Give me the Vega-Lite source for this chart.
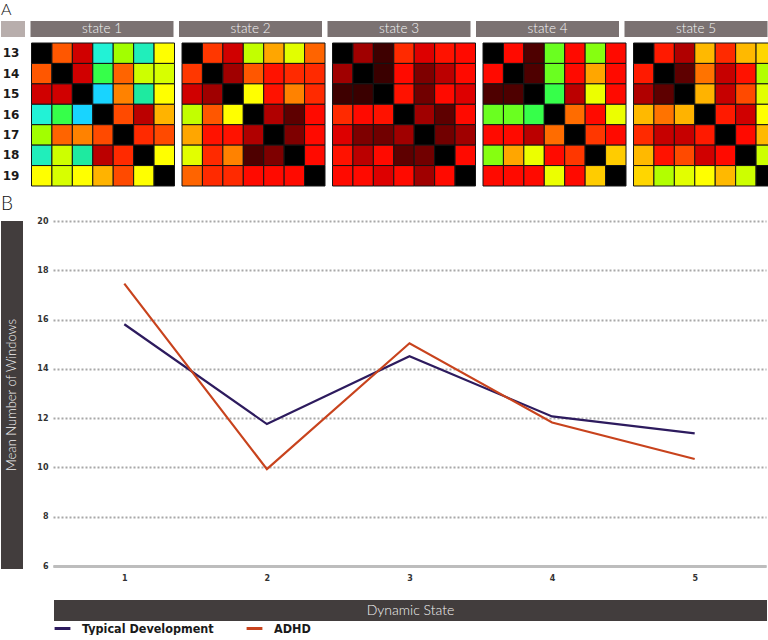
{
  "$schema": "https://vega.github.io/schema/vega-lite/v6.json",
  "padding": {"left": 1, "top": 2, "right": 0, "bottom": 0},
  "background": "white",
  "spacing": 8,
  "config": {
    "view": {"stroke": null},
    "font": "Lato",
    "title": {"anchor": "start", "fontSize": 16, "fontWeight": 300, "color": "#111", "font": "Lato", "offset": 3}
  },
  "resolve": {"scale": {"color": "independent"}, "legend": {"color": "independent"}},
  "datasets": {
    "lines": [
      {"state": 1, "group": "Typical Development", "value": 15.81},
      {"state": 2, "group": "Typical Development", "value": 11.76},
      {"state": 3, "group": "Typical Development", "value": 14.51},
      {"state": 4, "group": "Typical Development", "value": 12.07},
      {"state": 5, "group": "Typical Development", "value": 11.38},
      {"state": 1, "group": "ADHD", "value": 17.46},
      {"state": 2, "group": "ADHD", "value": 9.93},
      {"state": 3, "group": "ADHD", "value": 15.04},
      {"state": 4, "group": "ADHD", "value": 11.82},
      {"state": 5, "group": "ADHD", "value": 10.34}
    ],
    "heat": [
      {"s":1,"r":13,"c":13,"v":0},{"s":1,"r":13,"c":14,"v":62},{"s":1,"r":13,"c":15,"v":42},{"s":1,"r":13,"c":16,"v":97},{"s":1,"r":13,"c":17,"v":88},{"s":1,"r":13,"c":18,"v":96},{"s":1,"r":13,"c":19,"v":80},
      {"s":1,"r":14,"c":13,"v":62},{"s":1,"r":14,"c":14,"v":0},{"s":1,"r":14,"c":15,"v":42},{"s":1,"r":14,"c":16,"v":92},{"s":1,"r":14,"c":17,"v":64},{"s":1,"r":14,"c":18,"v":85},{"s":1,"r":14,"c":19,"v":84},
      {"s":1,"r":15,"c":13,"v":42},{"s":1,"r":15,"c":14,"v":42},{"s":1,"r":15,"c":15,"v":0},{"s":1,"r":15,"c":16,"v":100},{"s":1,"r":15,"c":17,"v":68},{"s":1,"r":15,"c":18,"v":95},{"s":1,"r":15,"c":19,"v":80},
      {"s":1,"r":16,"c":13,"v":97},{"s":1,"r":16,"c":14,"v":92},{"s":1,"r":16,"c":15,"v":100},{"s":1,"r":16,"c":16,"v":0},{"s":1,"r":16,"c":17,"v":60},{"s":1,"r":16,"c":18,"v":38},{"s":1,"r":16,"c":19,"v":74},
      {"s":1,"r":17,"c":13,"v":88},{"s":1,"r":17,"c":14,"v":64},{"s":1,"r":17,"c":15,"v":68},{"s":1,"r":17,"c":16,"v":60},{"s":1,"r":17,"c":17,"v":0},{"s":1,"r":17,"c":18,"v":55},{"s":1,"r":17,"c":19,"v":60},
      {"s":1,"r":18,"c":13,"v":96},{"s":1,"r":18,"c":14,"v":85},{"s":1,"r":18,"c":15,"v":95},{"s":1,"r":18,"c":16,"v":38},{"s":1,"r":18,"c":17,"v":55},{"s":1,"r":18,"c":18,"v":0},{"s":1,"r":18,"c":19,"v":80},
      {"s":1,"r":19,"c":13,"v":80},{"s":1,"r":19,"c":14,"v":84},{"s":1,"r":19,"c":15,"v":80},{"s":1,"r":19,"c":16,"v":74},{"s":1,"r":19,"c":17,"v":60},{"s":1,"r":19,"c":18,"v":80},{"s":1,"r":19,"c":19,"v":0},

      {"s":2,"r":13,"c":13,"v":0},{"s":2,"r":13,"c":14,"v":57},{"s":2,"r":13,"c":15,"v":42},{"s":2,"r":13,"c":16,"v":86},{"s":2,"r":13,"c":17,"v":72},{"s":2,"r":13,"c":18,"v":83},{"s":2,"r":13,"c":19,"v":64},
      {"s":2,"r":14,"c":13,"v":57},{"s":2,"r":14,"c":14,"v":0},{"s":2,"r":14,"c":15,"v":33},{"s":2,"r":14,"c":16,"v":62},{"s":2,"r":14,"c":17,"v":52},{"s":2,"r":14,"c":18,"v":55},{"s":2,"r":14,"c":19,"v":55},
      {"s":2,"r":15,"c":13,"v":42},{"s":2,"r":15,"c":14,"v":33},{"s":2,"r":15,"c":15,"v":0},{"s":2,"r":15,"c":16,"v":80},{"s":2,"r":15,"c":17,"v":52},{"s":2,"r":15,"c":18,"v":68},{"s":2,"r":15,"c":19,"v":55},
      {"s":2,"r":16,"c":13,"v":86},{"s":2,"r":16,"c":14,"v":62},{"s":2,"r":16,"c":15,"v":80},{"s":2,"r":16,"c":16,"v":0},{"s":2,"r":16,"c":17,"v":36},{"s":2,"r":16,"c":18,"v":23},{"s":2,"r":16,"c":19,"v":51},
      {"s":2,"r":17,"c":13,"v":72},{"s":2,"r":17,"c":14,"v":52},{"s":2,"r":17,"c":15,"v":52},{"s":2,"r":17,"c":16,"v":36},{"s":2,"r":17,"c":17,"v":0},{"s":2,"r":17,"c":18,"v":28},{"s":2,"r":17,"c":19,"v":51},
      {"s":2,"r":18,"c":13,"v":83},{"s":2,"r":18,"c":14,"v":55},{"s":2,"r":18,"c":15,"v":68},{"s":2,"r":18,"c":16,"v":20},{"s":2,"r":18,"c":17,"v":28},{"s":2,"r":18,"c":18,"v":0},{"s":2,"r":18,"c":19,"v":51},
      {"s":2,"r":19,"c":13,"v":64},{"s":2,"r":19,"c":14,"v":55},{"s":2,"r":19,"c":15,"v":55},{"s":2,"r":19,"c":16,"v":51},{"s":2,"r":19,"c":17,"v":51},{"s":2,"r":19,"c":18,"v":51},{"s":2,"r":19,"c":19,"v":0},

      {"s":3,"r":13,"c":13,"v":0},{"s":3,"r":13,"c":14,"v":33},{"s":3,"r":13,"c":15,"v":16},{"s":3,"r":13,"c":16,"v":55},{"s":3,"r":13,"c":17,"v":45},{"s":3,"r":13,"c":18,"v":52},{"s":3,"r":13,"c":19,"v":51},
      {"s":3,"r":14,"c":13,"v":33},{"s":3,"r":14,"c":14,"v":0},{"s":3,"r":14,"c":15,"v":15},{"s":3,"r":14,"c":16,"v":51},{"s":3,"r":14,"c":17,"v":28},{"s":3,"r":14,"c":18,"v":38},{"s":3,"r":14,"c":19,"v":51},
      {"s":3,"r":15,"c":13,"v":16},{"s":3,"r":15,"c":14,"v":15},{"s":3,"r":15,"c":15,"v":0},{"s":3,"r":15,"c":16,"v":52},{"s":3,"r":15,"c":17,"v":26},{"s":3,"r":15,"c":18,"v":51},{"s":3,"r":15,"c":19,"v":45},
      {"s":3,"r":16,"c":13,"v":55},{"s":3,"r":16,"c":14,"v":51},{"s":3,"r":16,"c":15,"v":52},{"s":3,"r":16,"c":16,"v":0},{"s":3,"r":16,"c":17,"v":33},{"s":3,"r":16,"c":18,"v":23},{"s":3,"r":16,"c":19,"v":51},
      {"s":3,"r":17,"c":13,"v":45},{"s":3,"r":17,"c":14,"v":28},{"s":3,"r":17,"c":15,"v":26},{"s":3,"r":17,"c":16,"v":33},{"s":3,"r":17,"c":17,"v":0},{"s":3,"r":17,"c":18,"v":26},{"s":3,"r":17,"c":19,"v":33},
      {"s":3,"r":18,"c":13,"v":52},{"s":3,"r":18,"c":14,"v":38},{"s":3,"r":18,"c":15,"v":51},{"s":3,"r":18,"c":16,"v":23},{"s":3,"r":18,"c":17,"v":26},{"s":3,"r":18,"c":18,"v":0},{"s":3,"r":18,"c":19,"v":51},
      {"s":3,"r":19,"c":13,"v":51},{"s":3,"r":19,"c":14,"v":51},{"s":3,"r":19,"c":15,"v":45},{"s":3,"r":19,"c":16,"v":51},{"s":3,"r":19,"c":17,"v":33},{"s":3,"r":19,"c":18,"v":51},{"s":3,"r":19,"c":19,"v":0},

      {"s":4,"r":13,"c":13,"v":0},{"s":4,"r":13,"c":14,"v":51},{"s":4,"r":13,"c":15,"v":20},{"s":4,"r":13,"c":16,"v":90},{"s":4,"r":13,"c":17,"v":51},{"s":4,"r":13,"c":18,"v":89},{"s":4,"r":13,"c":19,"v":51},
      {"s":4,"r":14,"c":13,"v":51},{"s":4,"r":14,"c":14,"v":0},{"s":4,"r":14,"c":15,"v":20},{"s":4,"r":14,"c":16,"v":90},{"s":4,"r":14,"c":17,"v":51},{"s":4,"r":14,"c":18,"v":72},{"s":4,"r":14,"c":19,"v":51},
      {"s":4,"r":15,"c":13,"v":20},{"s":4,"r":15,"c":14,"v":20},{"s":4,"r":15,"c":15,"v":0},{"s":4,"r":15,"c":16,"v":92},{"s":4,"r":15,"c":17,"v":38},{"s":4,"r":15,"c":18,"v":82},{"s":4,"r":15,"c":19,"v":51},
      {"s":4,"r":16,"c":13,"v":90},{"s":4,"r":16,"c":14,"v":90},{"s":4,"r":16,"c":15,"v":92},{"s":4,"r":16,"c":16,"v":0},{"s":4,"r":16,"c":17,"v":65},{"s":4,"r":16,"c":18,"v":51},{"s":4,"r":16,"c":19,"v":82},
      {"s":4,"r":17,"c":13,"v":51},{"s":4,"r":17,"c":14,"v":51},{"s":4,"r":17,"c":15,"v":38},{"s":4,"r":17,"c":16,"v":65},{"s":4,"r":17,"c":17,"v":0},{"s":4,"r":17,"c":18,"v":57},{"s":4,"r":17,"c":19,"v":51},
      {"s":4,"r":18,"c":13,"v":89},{"s":4,"r":18,"c":14,"v":72},{"s":4,"r":18,"c":15,"v":82},{"s":4,"r":18,"c":16,"v":51},{"s":4,"r":18,"c":17,"v":57},{"s":4,"r":18,"c":18,"v":0},{"s":4,"r":18,"c":19,"v":77},
      {"s":4,"r":19,"c":13,"v":51},{"s":4,"r":19,"c":14,"v":51},{"s":4,"r":19,"c":15,"v":51},{"s":4,"r":19,"c":16,"v":82},{"s":4,"r":19,"c":17,"v":51},{"s":4,"r":19,"c":18,"v":77},{"s":4,"r":19,"c":19,"v":0},

      {"s":5,"r":13,"c":13,"v":0},{"s":5,"r":13,"c":14,"v":53},{"s":5,"r":13,"c":15,"v":36},{"s":5,"r":13,"c":16,"v":75},{"s":5,"r":13,"c":17,"v":55},{"s":5,"r":13,"c":18,"v":75},{"s":5,"r":13,"c":19,"v":78},
      {"s":5,"r":14,"c":13,"v":53},{"s":5,"r":14,"c":14,"v":0},{"s":5,"r":14,"c":15,"v":23},{"s":5,"r":14,"c":16,"v":66},{"s":5,"r":14,"c":17,"v":40},{"s":5,"r":14,"c":18,"v":52},{"s":5,"r":14,"c":19,"v":87},
      {"s":5,"r":15,"c":13,"v":36},{"s":5,"r":15,"c":14,"v":23},{"s":5,"r":15,"c":15,"v":0},{"s":5,"r":15,"c":16,"v":74},{"s":5,"r":15,"c":17,"v":40},{"s":5,"r":15,"c":18,"v":60},{"s":5,"r":15,"c":19,"v":83},
      {"s":5,"r":16,"c":13,"v":75},{"s":5,"r":16,"c":14,"v":66},{"s":5,"r":16,"c":15,"v":74},{"s":5,"r":16,"c":16,"v":0},{"s":5,"r":16,"c":17,"v":53},{"s":5,"r":16,"c":18,"v":42},{"s":5,"r":16,"c":19,"v":80},
      {"s":5,"r":17,"c":13,"v":55},{"s":5,"r":17,"c":14,"v":40},{"s":5,"r":17,"c":15,"v":40},{"s":5,"r":17,"c":16,"v":53},{"s":5,"r":17,"c":17,"v":0},{"s":5,"r":17,"c":18,"v":51},{"s":5,"r":17,"c":19,"v":75},
      {"s":5,"r":18,"c":13,"v":75},{"s":5,"r":18,"c":14,"v":52},{"s":5,"r":18,"c":15,"v":60},{"s":5,"r":18,"c":16,"v":42},{"s":5,"r":18,"c":17,"v":51},{"s":5,"r":18,"c":18,"v":0},{"s":5,"r":18,"c":19,"v":85},
      {"s":5,"r":19,"c":13,"v":78},{"s":5,"r":19,"c":14,"v":87},{"s":5,"r":19,"c":15,"v":83},{"s":5,"r":19,"c":16,"v":80},{"s":5,"r":19,"c":17,"v":75},{"s":5,"r":19,"c":18,"v":85},{"s":5,"r":19,"c":19,"v":0}
    ]
  },
  "vconcat": [
    {
      "title": {"text": "A"},
      "spacing": 5,
      "vconcat": [
        {
          "spacing": 5.5,
          "hconcat": [
            {"width": 24, "height": 16, "data": {"values": [{}]}, "mark": {"type": "rect", "color": "#b8aeac"},
             "encoding": {"x": {"value": 0}, "x2": {"value": "width"}, "y": {"value": 0}, "y2": {"value": "height"}}},
            {"width": 143, "height": 16, "data": {"values": [{"label": "state 1"}]}, "layer": [
              {"mark": {"type": "rect", "color": "#7b7272"}, "encoding": {"x": {"value": 0}, "x2": {"value": "width"}, "y": {"value": 0}, "y2": {"value": "height"}}},
              {"mark": {"type": "text", "color": "#f6f6f6", "fontSize": 13.5, "font": "Lato", "fontWeight": 300}, "encoding": {"text": {"field": "label"}}}]},
            {"width": 143, "height": 16, "data": {"values": [{"label": "state 2"}]}, "layer": [
              {"mark": {"type": "rect", "color": "#7b7272"}, "encoding": {"x": {"value": 0}, "x2": {"value": "width"}, "y": {"value": 0}, "y2": {"value": "height"}}},
              {"mark": {"type": "text", "color": "#f6f6f6", "fontSize": 13.5, "font": "Lato", "fontWeight": 300}, "encoding": {"text": {"field": "label"}}}]},
            {"width": 143, "height": 16, "data": {"values": [{"label": "state 3"}]}, "layer": [
              {"mark": {"type": "rect", "color": "#7b7272"}, "encoding": {"x": {"value": 0}, "x2": {"value": "width"}, "y": {"value": 0}, "y2": {"value": "height"}}},
              {"mark": {"type": "text", "color": "#f6f6f6", "fontSize": 13.5, "font": "Lato", "fontWeight": 300}, "encoding": {"text": {"field": "label"}}}]},
            {"width": 143, "height": 16, "data": {"values": [{"label": "state 4"}]}, "layer": [
              {"mark": {"type": "rect", "color": "#7b7272"}, "encoding": {"x": {"value": 0}, "x2": {"value": "width"}, "y": {"value": 0}, "y2": {"value": "height"}}},
              {"mark": {"type": "text", "color": "#f6f6f6", "fontSize": 13.5, "font": "Lato", "fontWeight": 300}, "encoding": {"text": {"field": "label"}}}]},
            {"width": 143, "height": 16, "data": {"values": [{"label": "state 5"}]}, "layer": [
              {"mark": {"type": "rect", "color": "#7b7272"}, "encoding": {"x": {"value": 0}, "x2": {"value": "width"}, "y": {"value": 0}, "y2": {"value": "height"}}},
              {"mark": {"type": "text", "color": "#f6f6f6", "fontSize": 13.5, "font": "Lato", "fontWeight": 300}, "encoding": {"text": {"field": "label"}}}]}
          ]
        },
        {
          "spacing": 5.5,
          "hconcat": [
            {"width": 24, "height": 143, "data": {"name": "heat"}, "transform": [{"filter": "datum.s == 1 && datum.c == 13"}],
             "mark": {"type": "text", "font": "DejaVu Sans", "fontWeight": "bold", "fontSize": 12, "color": "#1a1a1a", "dx": -2},
             "encoding": {"y": {"field": "r", "type": "ordinal", "axis": null}, "text": {"field": "r"}}},
            {"width": 143, "height": 143, "data": {"name": "heat"}, "transform": [{"filter": "datum.s == 1"}],
             "mark": {"type": "rect", "stroke": "#141414", "strokeWidth": 1},
             "encoding": {"x": {"field": "c", "type": "ordinal", "axis": null}, "y": {"field": "r", "type": "ordinal", "axis": null},
               "color": {"field": "v", "type": "quantitative", "legend": null, "scale": {"domain": [0,15,20,23,28,33,38,42,45,51,55,60,64,68,71,75,78,80,83,86,88,90,92,95,97,100], "range": ["#000000","#3a0000","#4e0000","#5e0000","#7e0000","#a00000","#bb0000","#d00000","#dd0000","#ff0a00","#ff2a00","#ff4a00","#ff6400","#ff8200","#ffa000","#ffb900","#ffd600","#ffff00","#e2ff00","#c2ff00","#a2ff00","#6aff20","#36ff4a","#1eeaa0","#22f2d6","#18d4ff"], "interpolate": "rgb"}}}},
            {"width": 143, "height": 143, "data": {"name": "heat"}, "transform": [{"filter": "datum.s == 2"}],
             "mark": {"type": "rect", "stroke": "#141414", "strokeWidth": 1},
             "encoding": {"x": {"field": "c", "type": "ordinal", "axis": null}, "y": {"field": "r", "type": "ordinal", "axis": null},
               "color": {"field": "v", "type": "quantitative", "legend": null, "scale": {"domain": [0,15,20,23,28,33,38,42,45,51,55,60,64,68,71,75,78,80,83,86,88,90,92,95,97,100], "range": ["#000000","#3a0000","#4e0000","#5e0000","#7e0000","#a00000","#bb0000","#d00000","#dd0000","#ff0a00","#ff2a00","#ff4a00","#ff6400","#ff8200","#ffa000","#ffb900","#ffd600","#ffff00","#e2ff00","#c2ff00","#a2ff00","#6aff20","#36ff4a","#1eeaa0","#22f2d6","#18d4ff"], "interpolate": "rgb"}}}},
            {"width": 143, "height": 143, "data": {"name": "heat"}, "transform": [{"filter": "datum.s == 3"}],
             "mark": {"type": "rect", "stroke": "#141414", "strokeWidth": 1},
             "encoding": {"x": {"field": "c", "type": "ordinal", "axis": null}, "y": {"field": "r", "type": "ordinal", "axis": null},
               "color": {"field": "v", "type": "quantitative", "legend": null, "scale": {"domain": [0,15,20,23,28,33,38,42,45,51,55,60,64,68,71,75,78,80,83,86,88,90,92,95,97,100], "range": ["#000000","#3a0000","#4e0000","#5e0000","#7e0000","#a00000","#bb0000","#d00000","#dd0000","#ff0a00","#ff2a00","#ff4a00","#ff6400","#ff8200","#ffa000","#ffb900","#ffd600","#ffff00","#e2ff00","#c2ff00","#a2ff00","#6aff20","#36ff4a","#1eeaa0","#22f2d6","#18d4ff"], "interpolate": "rgb"}}}},
            {"width": 143, "height": 143, "data": {"name": "heat"}, "transform": [{"filter": "datum.s == 4"}],
             "mark": {"type": "rect", "stroke": "#141414", "strokeWidth": 1},
             "encoding": {"x": {"field": "c", "type": "ordinal", "axis": null}, "y": {"field": "r", "type": "ordinal", "axis": null},
               "color": {"field": "v", "type": "quantitative", "legend": null, "scale": {"domain": [0,15,20,23,28,33,38,42,45,51,55,60,64,68,71,75,78,80,83,86,88,90,92,95,97,100], "range": ["#000000","#3a0000","#4e0000","#5e0000","#7e0000","#a00000","#bb0000","#d00000","#dd0000","#ff0a00","#ff2a00","#ff4a00","#ff6400","#ff8200","#ffa000","#ffb900","#ffd600","#ffff00","#e2ff00","#c2ff00","#a2ff00","#6aff20","#36ff4a","#1eeaa0","#22f2d6","#18d4ff"], "interpolate": "rgb"}}}},
            {"width": 143, "height": 143, "data": {"name": "heat"}, "transform": [{"filter": "datum.s == 5"}],
             "mark": {"type": "rect", "stroke": "#141414", "strokeWidth": 1},
             "encoding": {"x": {"field": "c", "type": "ordinal", "axis": null}, "y": {"field": "r", "type": "ordinal", "axis": null},
               "color": {"field": "v", "type": "quantitative", "legend": null, "scale": {"domain": [0,15,20,23,28,33,38,42,45,51,55,60,64,68,71,75,78,80,83,86,88,90,92,95,97,100], "range": ["#000000","#3a0000","#4e0000","#5e0000","#7e0000","#a00000","#bb0000","#d00000","#dd0000","#ff0a00","#ff2a00","#ff4a00","#ff6400","#ff8200","#ffa000","#ffb900","#ffd600","#ffff00","#e2ff00","#c2ff00","#a2ff00","#6aff20","#36ff4a","#1eeaa0","#22f2d6","#18d4ff"], "interpolate": "rgb"}}}}
          ]
        }
      ]
    },
    {
      "title": {"text": "B", "fontSize": 19, "offset": 3},
      "spacing": 18,
      "resolve": {"scale": {"color": "independent"}, "legend": {"color": "independent"}},
      "vconcat": [
        {
          "spacing": 0,
          "hconcat": [
            {"width": 22, "height": 348, "data": {"values": [{}]}, "layer": [
              {"mark": {"type": "rect", "color": "#423d3d"}, "encoding": {"x": {"value": 0}, "x2": {"value": "width"}, "y": {"value": 0}, "y2": {"value": "height"}}},
              {"mark": {"type": "text", "text": "Mean Number of Windows", "angle": 270, "color": "#f2f2f2", "fontSize": 13, "font": "Lato", "fontWeight": 300}, "encoding": {}}
            ]},
            {"width": 713, "height": 345, "data": {"name": "lines"},
             "mark": {"type": "line", "strokeWidth": 2.2},
             "encoding": {
               "x": {"field": "state", "type": "quantitative", "scale": {"domain": [0.5, 5.5], "nice": false, "zero": false},
                 "axis": {"values": [1,2,3,4,5], "format": "d", "title": null, "grid": false, "ticks": false, "domainColor": "#bdbdbd", "domainWidth": 3, "labelFont": "DejaVu Sans", "labelFontSize": 8, "labelFontWeight": "bold", "labelColor": "#333", "labelPadding": 8}},
               "y": {"field": "value", "type": "quantitative", "scale": {"domain": [6, 20], "nice": false, "zero": false},
                 "axis": {"values": [6,8,10,12,14,16,18,20], "title": null, "grid": true, "gridDash": [2, 2], "gridColor": "#a8a8a8", "gridWidth": 2, "domain": false, "ticks": false, "labelFont": "DejaVu Sans", "labelFontSize": 8, "labelFontWeight": "bold", "labelColor": "#333", "labelPadding": 5, "minExtent": 30, "maxExtent": 30}},
               "color": {"field": "group", "type": "nominal", "scale": {"domain": ["Typical Development", "ADHD"], "range": ["#2d1b5e", "#c8431d"]}, "legend": null}
             }}
          ]
        },
        {
          "spacing": 0,
          "resolve": {"scale": {"color": "independent"}, "legend": {"color": "independent"}},
          "hconcat": [
            {"width": 52, "height": 21, "data": {"values": [{}]}, "mark": {"type": "text", "text": ""}, "encoding": {}},
            {"width": 713, "height": 21, "data": {"name": "lines"}, "layer": [
              {"data": {"values": [{}]}, "mark": {"type": "rect", "color": "#423d3d"}, "encoding": {"x": {"value": 0}, "x2": {"value": "width"}, "y": {"value": 0}, "y2": {"value": "height"}}},
              {"data": {"values": [{}]}, "mark": {"type": "text", "text": "Dynamic State", "color": "#f2f2f2", "fontSize": 14, "font": "Lato", "fontWeight": 300}, "encoding": {}},
              {"mark": {"type": "line", "strokeWidth": 3}, "encoding": {
                "color": {"field": "group", "type": "nominal", "scale": {"domain": ["Typical Development", "ADHD"], "range": ["#2d1b5e", "#c8431d"]},
                  "legend": {"orient": "none", "legendX": -1, "legendY": 19, "direction": "horizontal", "title": null, "symbolType": "stroke", "symbolStrokeWidth": 3, "symbolSize": 250, "labelFont": "DejaVu Sans Condensed", "labelFontWeight": "bold", "labelFontSize": 12.5, "labelColor": "#1a1a1a", "columnPadding": 26, "labelOffset": 10, "labelLimit": 300}}
              }}
            ]}
          ]
        }
      ]
    }
  ]
}
